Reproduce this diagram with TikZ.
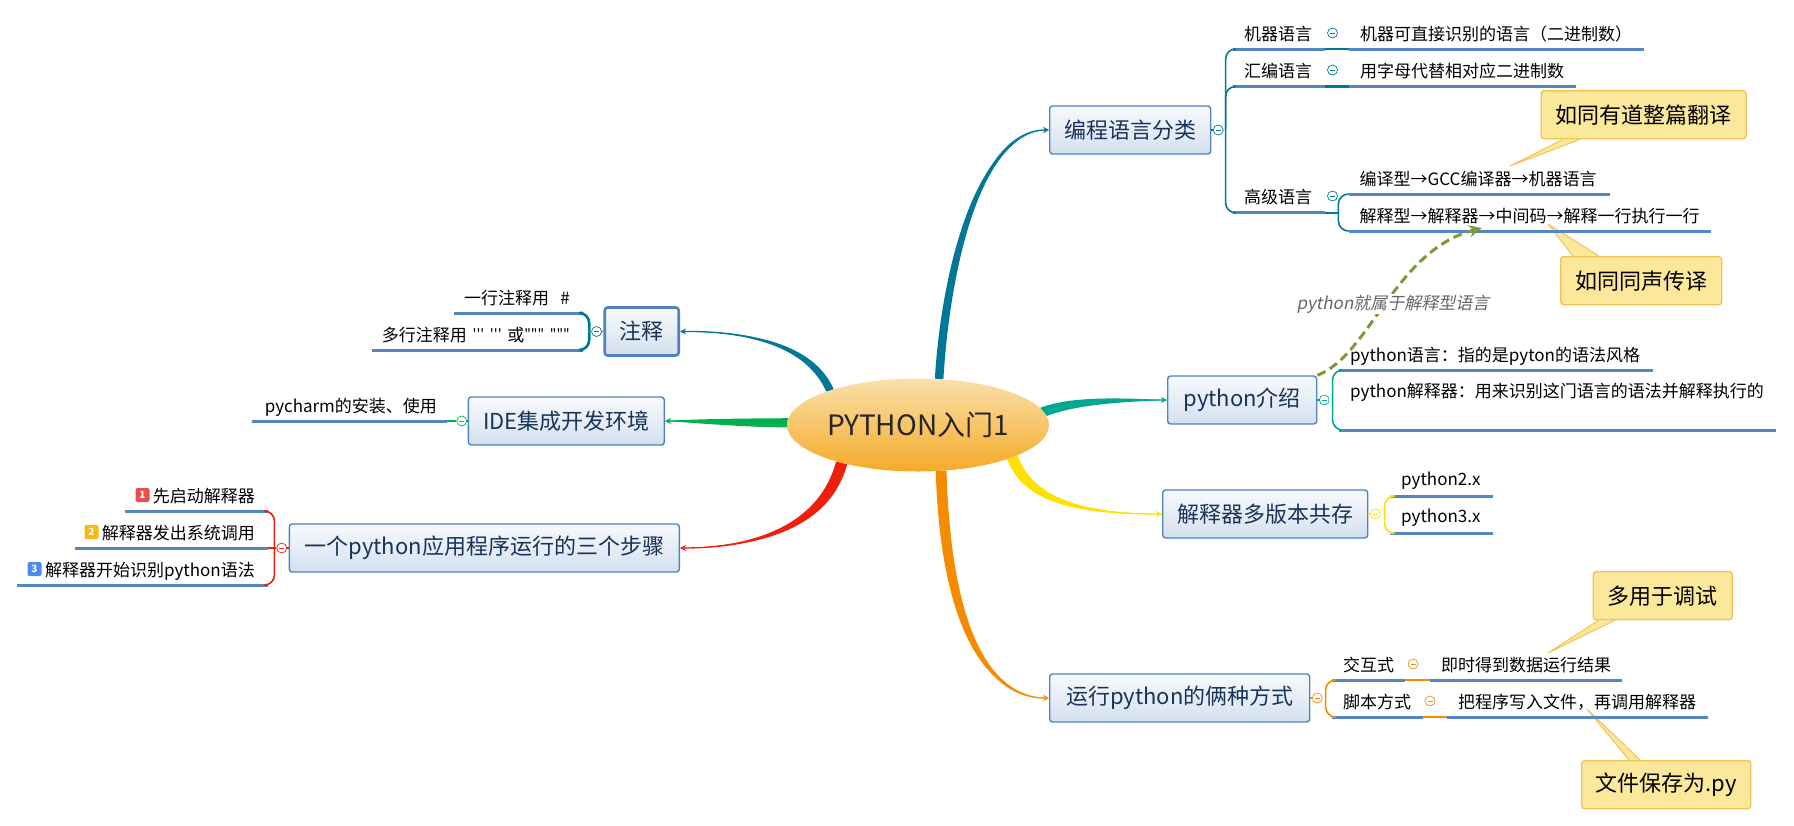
\documentclass[tikz,border=0pt]{standalone}
\usepackage{fontspec}
\setmainfont{Noto Sans CJK SC}[Ligatures=TeXOff]
\newfontfamily\slantcjk{Noto Sans CJK SC}[FakeSlant=0.2]
\usetikzlibrary{shapes.geometric, arrows.meta, positioning, backgrounds, calc}
\definecolor{mmline}{RGB}{84,134,196}
\definecolor{mmedge}{RGB}{80,130,190}
\definecolor{mmtext}{RGB}{24,52,90}
\definecolor{mmteal}{RGB}{0,120,150}
\definecolor{mmsea}{RGB}{0,168,144}
\definecolor{mmgreen}{RGB}{0,176,80}
\definecolor{mmred}{RGB}{240,30,10}
\definecolor{mmorange}{RGB}{245,140,0}
\definecolor{mmyellow}{RGB}{255,224,0}
\definecolor{mmolive}{RGB}{122,154,60}
\definecolor{notefill}{RGB}{251,232,155}
\definecolor{noteedge}{RGB}{240,195,85}
\definecolor{roottop}{RGB}{250,224,170}
\definecolor{rootbottom}{RGB}{244,170,40}
\definecolor{badgered}{RGB}{232,80,80}
\definecolor{badgeyellow}{RGB}{250,184,16}
\definecolor{badgeblue}{RGB}{74,140,240}
\newcommand{\branch}[6]{
  \begin{scope}[on background layer]
    \fill[#1] (root.#2) .. controls ($(#4)+0.5*(root.#2)-0.5*(root.#3)$) and ($(#5)+0.25*(root.#2)-0.25*(root.#3)$) .. (#6)
      .. controls ($(#5)-0.25*(root.#2)+0.25*(root.#3)$) and ($(#4)-0.5*(root.#2)+0.5*(root.#3)$) .. (root.#3) -- cycle;
    \draw[#1, line width=1.3pt, -{Stealth[length=6pt, width=6pt]}] ($(root.#2)!0.5!(root.#3)$) .. controls (#4) and (#5) .. (#6);
  \end{scope}
}
\newcommand{\quotes}[1]{\raisebox{2pt}{\fontsize{14}{14}\selectfont #1}}
\begin{document}
\begin{tikzpicture}[
    x=1pt, y=-1pt,
    box/.style={rectangle, draw=mmedge, top color=mmedge!4, bottom color=mmedge!25, minimum width=#1, minimum height=48pt, inner sep=0pt, anchor=west, text=mmtext, font=\fontsize{22}{26}\selectfont, rounded corners=3pt, line width=1.4pt},
    lbox/.style={rectangle, draw=noteedge, fill=notefill, minimum height=48pt, minimum width=#1, inner sep=0pt, anchor=north west, text=black, font=\fontsize{22}{26}\selectfont, rounded corners=3pt, line width=1.4pt},
    leaf/.style={rectangle, anchor=south west, text width=#1pt-22pt, minimum height=32pt, inner xsep=11pt, inner ysep=0pt, align=left, text height=16pt, text depth=1.5pt, font=\fontsize{17}{20}\selectfont, append after command={(\tikzlastnode.south west) edge[uline] (\tikzlastnode.south east)}},
    rleaf/.style={leaf=#1, anchor=south east, inner xsep=13pt, text width=#1pt-26pt, align=right},
    uline/.style={draw=mmline, line width=3pt},
    twig/.style={draw=#1, line width=1.6pt, rounded corners=10pt},
    fold/.style={circle, draw=#1, fill=white, minimum size=10pt, inner sep=0pt, line width=0.7pt, path picture={\draw[#1, line width=0.7pt] ([xshift=-2.5pt]path picture bounding box.center) -- ([xshift=2.5pt]path picture bounding box.center);}},
    badge/.style={rectangle, fill=#1, minimum size=14pt, inner sep=0pt, rounded corners=2pt, text=white, font=\fontsize{10}{10}\bfseries\selectfont},
    tail/.style={draw=noteedge, fill=notefill, line width=1pt, line join=round},
    arrow/.style={-{Stealth[length=13pt, width=12pt]}, line width=3pt, mmolive, dash pattern=on 9pt off 5pt},
]
    \useasboundingbox (0,0) rectangle (1794,825);

    \node[ellipse, minimum width=262pt, minimum height=93pt, inner sep=0pt, top color=roottop, bottom color=rootbottom, font=\fontsize{28}{30}\selectfont, text=black!85] (root) at (918,425) {PYTHON入门1};

    \node[box=161] (lang) at (1049,130) {编程语言分类};
    \node[box=149] (pyintro) at (1167,400) {python介绍};
    \node[box=205] (multi) at (1162,514) {解释器多版本共存};
    \node[box=260] (runway) at (1049,698) {运行python的俩种方式};
    \node[box=74, anchor=east, line width=2.6pt] (cmt) at (680,331.5) {注释};
    \node[box=196, anchor=east] (ide) at (665,421) {IDE集成开发环境};
    \node[box=390, anchor=east] (steps) at (680,548) {一个python应用程序运行的三个步骤};

    \branch{mmteal}{70}{61}{945,280}{975,130}{lang.west}
    \branch{mmteal}{160.6}{157}{810,345}{750,331}{cmt.east}
    \branch{mmgreen}{177}{181.5}{750,423}{700,421}{ide.east}
    \branch{mmred}{204.8}{209}{825,525}{760,548}{steps.east}
    \branch{mmorange}{291}{302}{945,600}{975,698}{runway.west}
    \branch{mmyellow}{339}{343}{1030,505}{1090,514}{multi.west}
    \branch{mmsea}{8}{4}{1075,400}{1120,400}{pyintro.west}

    \node[leaf=92] (mach) at (1233,49) {机器语言};
    \node[leaf=295, right=23.5pt of mach] (machdef) {机器可直接识别的语言（二进制数）};
    \node[leaf=92, below=5pt of mach] (asm) {汇编语言};
    \node[leaf=226.5, right=23.5pt of asm] (asmdef) {用字母代替相对应二进制数};
    \node[leaf=92, below=94pt of asm] (high) {高级语言};
    \node[leaf=261] (compiled) at (1348.5,194) {编译型→GCC编译器→机器语言};
    \node[leaf=362.5] (interp) at (1348.5,231) {解释型→解释器→中间码→解释一行执行一行};

    \node[leaf=314] (pylang) at (1339,370) {python语言：指的是pyton的语法风格};
    \node[leaf=437, text depth=32pt] (pyinterp) at (1339,430) {python解释器：用来识别这门语言的语法并解释执行的};

    \node[leaf=103, text depth=4.5pt] (ver2) at (1390,496) {python2.x};
    \node[leaf=103, text depth=4.5pt, below=5pt of ver2] (ver3) {python3.x};

    \node[leaf=73] (repl) at (1332,680) {交互式};
    \node[leaf=192] (repldef) at (1430,680) {即时得到数据运行结果};
    \node[leaf=90.6] (script) at (1332,717) {脚本方式};
    \node[leaf=261] (scriptdef) at (1447,717) {把程序写入文件，再调用解释器};

    \node[rleaf=129] (cmtone) at (583,313) {\hbox to \hsize{\hss 一行注释用\ \ \#}};
    \node[rleaf=211] (cmtmany) at (583,350) {\hbox to \hsize{\hss 多行注释用 \quotes{''' '''} 或\quotes{""" """}}};
    \node[rleaf=195] (pycharm) at (447,421) {pycharm的安装、使用};
    \node[rleaf=143] (stepone) at (268,511) {先启动解释器};
    \node[rleaf=193] (steptwo) at (268,548) {解释器发出系统调用};
    \node[rleaf=251] (stepthree) at (268,585) {解释器开始识别python语法};

    \node[badge=badgered] (bone) at (142.5,495) {1};
    \node[badge=badgeyellow] (btwo) at (91.5,532) {2};
    \node[badge=badgeblue] (bthree) at (34.5,569) {3};

    \node[lbox=205] (notea) at (1540.5,90) {如同有道整篇翻译};
    \node[lbox=161] (noteb) at (1560,256) {如同同声传译};
    \node[lbox=139] (notec) at (1592.5,571) {多用于调试};
    \node[lbox=169] (noted) at (1581,760) {文件保存为.py};

    \coordinate (tipa) at (1510,166);
    \coordinate (tipb) at (1548,224);
    \coordinate (tipc) at (1548,653);
    \coordinate (tipd) at (1587,709);
    \coordinate (hit) at (1482,228);
    \begin{scope}[on background layer]
        \foreach \nte/\side/\lft/\rgt/\tip in {notea/south/22.5/39.5/tipa, noteb/north/13/39/tipb, notec/south/6/22/tipc, noted/north/48/59/tipd}
            \draw[tail] ($(\nte.\side\space west)+(\lft,0)$) -- (\tip) -- ($(\nte.\side\space west)+(\rgt,0)$);
    \end{scope}

    \node[fold=mmteal, right=1.5pt of lang] (flang) {};
    \node[fold=mmsea, right=1.5pt of pyintro] (fpy) {};
    \node[fold=mmyellow, right=1.5pt of multi] (fmulti) {};
    \node[fold=mmorange, right=1.5pt of runway] (frun) {};
    \node[fold=mmteal, left=1.5pt of cmt] (fcmt) {};
    \node[fold=mmgreen, left=0.5pt of ide] (fide) {};
    \node[fold=mmred, left=1.5pt of steps] (fsteps) {};
    \node[fold=mmteal] (fmach) at (1332.5,33) {};
    \node[fold=mmteal] (fasm) at (1332.5,70) {};
    \node[fold=mmteal] (fhigh) at (1332.5,196) {};
    \node[fold=mmorange] (frepl) at (1413,664) {};
    \node[fold=mmorange] (fscript) at (1430,701) {};

    \draw[twig=mmteal] (lang.east) -- (flang);
    \draw[twig=mmsea] (pyintro.east) -- (fpy);
    \draw[twig=mmyellow] (multi.east) -- (fmulti);
    \draw[twig=mmorange] (runway.east) -- (frun);
    \draw[twig=mmteal] (cmt.west) -- (fcmt);
    \draw[twig=mmgreen] (ide.west) -- (fide);
    \draw[twig=mmred] (steps.west) -- (fsteps);

    \foreach \kid in {mach, asm, high}
        \draw[twig=mmteal] (flang.east) ++(2,0) |- (\kid.south west);
    \foreach \kid in {pylang, pyinterp}
        \draw[twig=mmsea] (fpy.east) ++(3,0) |- (\kid.south west);
    \foreach \kid in {ver2, ver3}
        \draw[twig=mmyellow] (fmulti.east) ++(4,0) |- (\kid.south west);
    \foreach \kid in {repl, script}
        \draw[twig=mmorange] (frun.east) ++(3,0) |- (\kid.south west);
    \foreach \kid in {cmtone, cmtmany}
        \draw[twig=mmteal, line width=2.6pt] (fcmt.west) ++(-2,0) |- (\kid.south east);
    \foreach \kid in {stepone, stepthree}
        \draw[twig=mmred] (fsteps.west) ++(-2,0) |- (\kid.south east);
    \draw[twig=mmred] (fsteps.west) -- (steptwo.south east);
    \draw[twig=mmgreen] (fide.west) -- (pycharm.south east);

    \draw[twig=mmteal, line width=2.2pt] (mach.south east) -- (machdef.south west);
    \draw[twig=mmteal, line width=2.2pt] (asm.south east) -- (asmdef.south west);
    \draw[twig=mmorange, line width=2.2pt] (repl.south east) -- (repldef.south west);
    \draw[twig=mmorange, line width=2.2pt] (script.south east) -- (scriptdef.south west);
    \draw[twig=mmteal, line width=2.2pt] (high.south east) -- ++(13,0);
    \foreach \kid in {compiled, interp}
        \draw[twig=mmteal] (high.south east) ++(13,0) |- (\kid.south west);

    \draw[arrow] (pyintro.north east) .. controls (1370,355) and (1395,250) .. (hit);
    \node[fill=white, inner sep=1pt, text=black!60, font=\fontsize{17}{20}\slantcjk\selectfont] (belongs) at (1393,304) {python就属于解释型语言};
\end{tikzpicture}
\end{document}
